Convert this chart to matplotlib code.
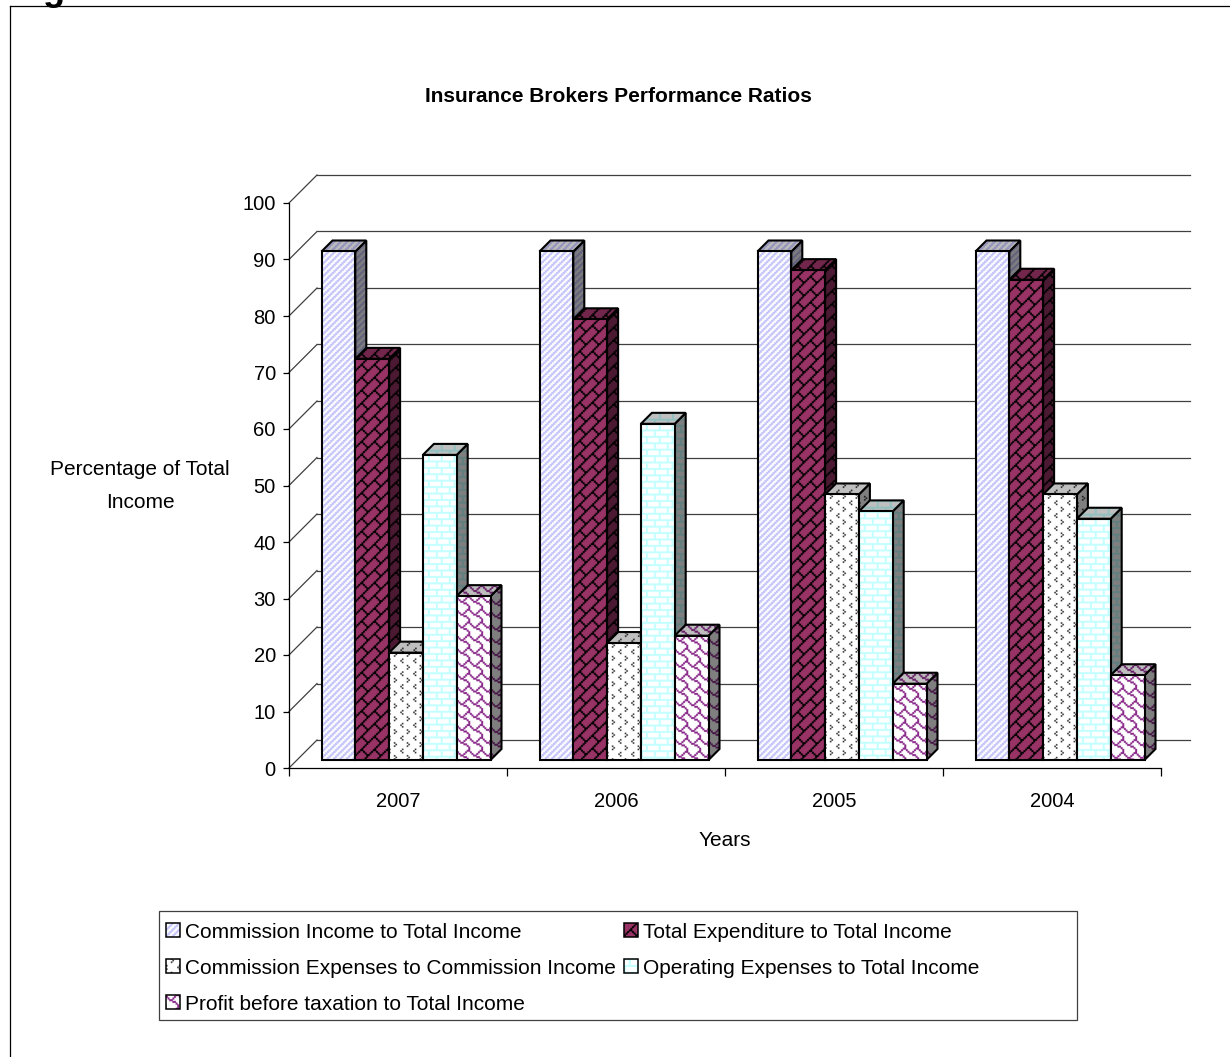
import numpy as np
import matplotlib
matplotlib.use("Agg")
import matplotlib.pyplot as plt
from matplotlib.patches import Polygon, Rectangle
from matplotlib.lines import Line2D

plt.rcParams["font.family"] = ["Liberation Sans", "DejaVu Sans"]

# chart values
years = ["2007", "2006", "2005", "2004"]
commission_income = [90, 90, 90, 90]
total_expenditure = [71, 78, 86.7, 85]
commission_expenses = [19, 20.7, 47, 47]
operating_expenses = [54, 59.5, 44, 42.7]
profit_before_tax = [29, 22, 13.5, 15]
y_ticks = list(range(0, 101, 10))

series_labels = [
    "Commission Income to Total Income",
    "Total Expenditure to Total Income",
    "Commission Expenses to Commission Income",
    "Operating Expenses to Total Income",
    "Profit before taxation to Total Income",
]

# 8x8 fill patterns, one hex value per row
PATTERNS = {
    "updiag": [0x11, 0x22, 0x44, 0x88, 0x11, 0x22, 0x44, 0x88],
    "diagbrick": [0x01, 0x02, 0x04, 0x08, 0x18, 0x24, 0x42, 0x81],
    "divot": [0x10, 0x08, 0x10, 0x00, 0x80, 0x01, 0x80, 0x00],
    "hbrick": [0xFF, 0x10, 0x10, 0x10, 0xFF, 0x80, 0x80, 0x80],
    "shingle": [0x03, 0x84, 0x48, 0x30, 0x0C, 0x02, 0x01, 0x01],
}
# how many sub-pixels each pattern's strokes get thickened by
GROW = {"updiag": 2, "diagbrick": 1, "divot": 0, "hbrick": 1, "shingle": 1}
SUB = 4
TILE_SCALE = 1.6 / SUB

styles = [
    ("updiag", "#c4c4fa", "#ffffff"),
    ("diagbrick", "#000000", "#993366"),
    ("divot", "#333333", "#ffffff"),
    ("hbrick", "#c4ffff", "#ffffff"),
    ("shingle", "#8a2a8a", "#ffffff"),
]

W, H = 1230, 1057
AX_LEFT, AX_RIGHT, AX_TOP, AX_BOTTOM = 289, 1161, 203, 768

fig = plt.figure(figsize=(W / 100, H / 100), dpi=100)
ax = fig.add_axes([AX_LEFT / W, 1 - AX_BOTTOM / H, (AX_RIGHT - AX_LEFT) / W, (AX_BOTTOM - AX_TOP) / H])
ax.set_xlim(0, len(years))
ax.set_ylim(0, 100)

PX_X = len(years) / (AX_RIGHT - AX_LEFT)
PX_Y = 100 / (AX_BOTTOM - AX_TOP)


def from_px(px, py):
    return (px - AX_LEFT) * PX_X, (AX_BOTTOM - py) * PX_Y


def fig_xy(px, py):
    return px / W, 1 - py / H


def hex_rgb(c):
    return np.array(matplotlib.colors.to_rgb(c))


def make_tile(pattern):
    bits = np.array([[(row >> (7 - k)) & 1 for k in range(8)] for row in PATTERNS[pattern]])
    tile = np.kron(bits, np.ones((SUB, SUB), dtype=int))
    grown = tile.copy()
    for n in range(1, GROW[pattern] + 1):
        grown |= np.roll(tile, n, axis=0) | np.roll(tile, n, axis=1) | np.roll(np.roll(tile, n, axis=0), n, axis=1)
    return grown


TILES = {name: make_tile(name) for name in PATTERNS}

z_next = [3]


def next_z():
    z_next[0] += 1
    return z_next[0]


def texture(patch, pattern, fg, bg, shade=1.0):
    # fill a patch with a screen aligned pattern
    tile = TILES[pattern]
    verts = ax.transData.inverted().transform(patch.get_verts())
    x0, y0 = verts.min(axis=0)
    x1, y1 = verts.max(axis=0)
    nx = int(np.ceil((x1 - x0) / PX_X / TILE_SCALE)) + 1
    ny = int(np.ceil((y1 - y0) / PX_Y / TILE_SCALE)) + 1
    size = tile.shape[0]
    mask = np.tile(tile, (ny // size + 1, nx // size + 1))[:ny, :nx]
    rgb = np.where(mask[..., None] == 1, hex_rgb(fg) * shade, hex_rgb(bg) * shade)
    extent = (x0, x0 + nx * TILE_SCALE * PX_X, y1 - ny * TILE_SCALE * PX_Y, y1)
    img = ax.imshow(rgb, extent=extent, origin="upper", aspect="auto",
                    interpolation="hanning", zorder=patch.get_zorder() - 0.5)
    img.set_clip_path(patch)
    if not isinstance(patch, Rectangle):
        img.set_clip_box(fig.bbox)
    return img


def face(verts, style, shade):
    poly = Polygon(verts, closed=True, facecolor="none", edgecolor="black", linewidth=1.5,
                   joinstyle="miter", zorder=next_z(), clip_on=False)
    ax.add_patch(poly)
    texture(poly, style[0], style[1], style[2], shade)


# walls: back plane and left side gridlines
WALL_X, WALL_Y = 28 * PX_X, 28 * PX_Y
GRID_END = (1190 - AX_LEFT) * PX_X
for v in y_ticks:
    ax.plot([WALL_X, GRID_END], [v + WALL_Y, v + WALL_Y], color="#404040", lw=0.9, clip_on=False, zorder=1)
    ax.plot([0, WALL_X], [v, v + WALL_Y], color="#404040", lw=0.9, clip_on=False, zorder=1)

# 3D columns
all_series = [commission_income, total_expenditure, commission_expenses, operating_expenses, profit_before_tax]
BAR_W = 33.8 * PX_X
SHIFT_X, SHIFT_Y = 8 * PX_X, 8 * PX_Y
DEPTH_X, DEPTH_Y = 11 * PX_X, 11 * PX_Y

for i in range(len(years)):
    start = i + 0.5 - 2.5 * BAR_W + SHIFT_X
    for j, vals in enumerate(all_series):
        left = start + j * BAR_W
        right = left + BAR_W
        top = vals[i] + SHIFT_Y
        bottom = SHIFT_Y
        style = styles[j]

        # right side then top then front, later columns paint over earlier sides
        face([(right, bottom), (right + DEPTH_X, bottom + DEPTH_Y), (right + DEPTH_X, top + DEPTH_Y), (right, top)],
             style, 0.5)
        face([(left, top), (left + DEPTH_X, top + DEPTH_Y), (right + DEPTH_X, top + DEPTH_Y), (right, top)],
             style, 0.75)
        bars = ax.bar(left, vals[i], BAR_W, bottom=bottom, align="edge", facecolor="none", edgecolor="black",
                      linewidth=1.5, zorder=next_z())
        texture(bars[0], style[0], style[1], style[2])

# axes
for side in ["top", "right"]:
    ax.spines[side].set_visible(False)
ax.patch.set_visible(False)
for side in ["left", "bottom"]:
    ax.spines[side].set_linewidth(0.9)
ax.set_yticks(y_ticks)
ax.set_xticks(range(len(years) + 1))
ax.set_xticklabels([])
ax.set_xticks([i + 0.5 for i in range(len(years))], minor=True)
ax.set_xticklabels(years, minor=True)
ax.tick_params(axis="y", labelsize=14.5, length=4.5, width=0.9, pad=5)
ax.tick_params(axis="x", which="major", length=6, width=0.9)
ax.tick_params(axis="x", which="minor", labelsize=14.5, length=0, pad=17)

fig.text(*fig_xy(725, 840), "Years", fontsize=15, ha="center", va="center")
fig.text(*fig_xy(140, 486), "Percentage of Total\nIncome", fontsize=15, ha="center", va="center", linespacing=1.9)
fig.text(*fig_xy(618, 96), "Insurance Brokers Performance Ratios", fontsize=15, fontweight="bold",
         ha="center", va="center")

# legend box
ax.add_patch(Rectangle(from_px(159, 1020), 918 * PX_X, 109 * PX_Y, facecolor="white", edgecolor="#404040",
                       linewidth=0.9, clip_on=False, zorder=next_z()))
legend_slots = [(166, 930), (624, 930), (166, 966), (624, 966), (166, 1002)]
for (sx, sy), label, style in zip(legend_slots, series_labels, styles):
    box = Rectangle(from_px(sx, sy + 7), 14 * PX_X, 14 * PX_Y, facecolor="none", edgecolor="black",
                    linewidth=1.1, clip_on=False, zorder=next_z() + 1)
    next_z()
    ax.add_patch(box)
    texture(box, style[0], style[1], style[2])
    fig.text(*fig_xy(sx + 19, sy + 2), label, fontsize=15, ha="left", va="center", zorder=50)

# outer frame, open on the right and at the bottom
fig.add_artist(Line2D([10 / W, 10 / W], [0, 1 - 6 / H], color="black", lw=0.9))
fig.add_artist(Line2D([10 / W, 1], [1 - 6 / H, 1 - 6 / H], color="black", lw=0.9))
fig.text(*fig_xy(54, -9), "g", fontsize=26, fontweight="bold", ha="center", va="center")

fig.savefig("out.png", dpi=100)
